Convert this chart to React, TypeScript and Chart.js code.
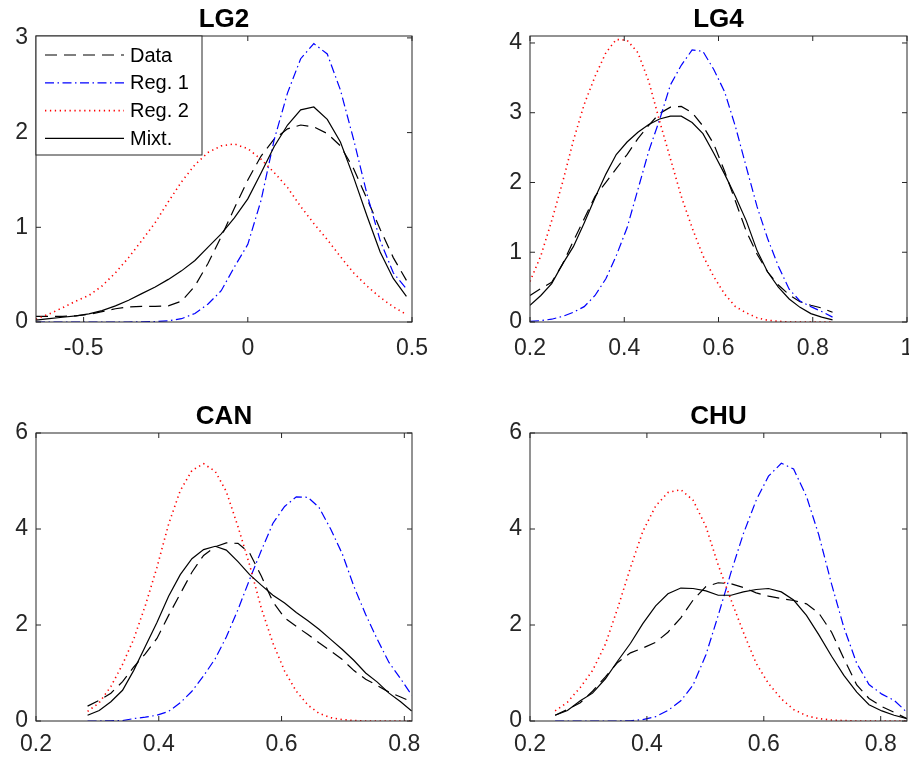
import React, { useEffect, useRef } from 'react';
import { Chart, registerables } from 'chart.js';

Chart.register(...registerables);

// ---------------- DATA ----------------
const seriesLabels = ['Data', 'Reg. 1', 'Reg. 2', 'Mixt.'];

// LG2
const lg2X = [-0.645, -0.605, -0.564, -0.524, -0.484, -0.444, -0.403, -0.363, -0.323, -0.282, -0.242, -0.202, -0.161, -0.121, -0.081, -0.041, 0.0, 0.04, 0.08, 0.121, 0.161, 0.201, 0.242, 0.282, 0.322, 0.363, 0.403, 0.443, 0.483];
const lg2Data = [0.06, 0.06, 0.06, 0.065, 0.08, 0.11, 0.14, 0.16, 0.165, 0.165, 0.17, 0.22, 0.38, 0.62, 0.9, 1.2, 1.5, 1.75, 1.93, 2.04, 2.08, 2.06, 1.99, 1.86, 1.62, 1.3, 0.98, 0.68, 0.44];
const lg2Reg1 = [0, 0, 0, 0, 0, 0, 0, 0, 0.002, 0.005, 0.012, 0.035, 0.09, 0.19, 0.33, 0.58, 0.82, 1.28, 1.92, 2.42, 2.78, 2.94, 2.83, 2.45, 1.93, 1.35, 0.86, 0.52, 0.35];
const lg2Reg2 = [0.03, 0.085, 0.15, 0.22, 0.28, 0.38, 0.52, 0.68, 0.86, 1.05, 1.27, 1.48, 1.66, 1.79, 1.86, 1.88, 1.83, 1.72, 1.58, 1.42, 1.22, 1.04, 0.87, 0.69, 0.52, 0.38, 0.26, 0.16, 0.08];
const lg2Mixt = [0.02, 0.035, 0.05, 0.065, 0.085, 0.12, 0.17, 0.23, 0.3, 0.37, 0.45, 0.54, 0.65, 0.79, 0.93, 1.1, 1.3, 1.57, 1.85, 2.08, 2.24, 2.27, 2.14, 1.9, 1.53, 1.12, 0.74, 0.46, 0.27];
const lg2XTicks = [-0.5, 0, 0.5];
const lg2XTickLabels = ['-0.5', '0', '0.5'];
const lg2YTicks = [0, 1, 2, 3];

// LG4
const lg4X = [0.2, 0.223, 0.246, 0.269, 0.292, 0.315, 0.338, 0.361, 0.383, 0.406, 0.429, 0.452, 0.475, 0.498, 0.521, 0.544, 0.567, 0.59, 0.613, 0.636, 0.659, 0.682, 0.704, 0.727, 0.75, 0.773, 0.796, 0.819, 0.842];
const lg4Data = [0.38, 0.48, 0.57, 0.83, 1.16, 1.48, 1.8, 2.0, 2.2, 2.4, 2.63, 2.82, 2.99, 3.08, 3.09, 3.0, 2.81, 2.55, 2.16, 1.73, 1.3, 0.97, 0.72, 0.53, 0.39, 0.29, 0.24, 0.2, 0.14];
const lg4Reg1 = [0.01, 0.02, 0.04, 0.08, 0.14, 0.22, 0.38, 0.62, 0.95, 1.35, 1.9, 2.45, 2.9, 3.4, 3.68, 3.9, 3.88, 3.62, 3.3, 2.8, 2.22, 1.65, 1.2, 0.8, 0.47, 0.3, 0.22, 0.15, 0.07];
const lg4Reg2 = [0.58, 0.95, 1.45, 2.0, 2.6, 3.12, 3.52, 3.86, 4.05, 4.04, 3.86, 3.45, 2.88, 2.34, 1.8, 1.35, 0.95, 0.65, 0.4, 0.22, 0.13, 0.06, 0.025, 0.01, 0, 0, 0, 0, 0];
const lg4Mixt = [0.24, 0.38, 0.55, 0.83, 1.08, 1.42, 1.78, 2.12, 2.4, 2.58, 2.72, 2.83, 2.91, 2.95, 2.95, 2.86, 2.7, 2.42, 2.12, 1.8, 1.45, 1.02, 0.72, 0.5, 0.33, 0.21, 0.12, 0.07, 0.03];
const lg4XTicks = [0.2, 0.4, 0.6, 0.8, 1];
const lg4XTickLabels = ['0.2', '0.4', '0.6', '0.8', '1'];
const lg4YTicks = [0, 1, 2, 3, 4];

// CAN
const canX = [0.284, 0.303, 0.322, 0.341, 0.359, 0.378, 0.397, 0.416, 0.435, 0.454, 0.473, 0.492, 0.51, 0.529, 0.548, 0.567, 0.586, 0.605, 0.624, 0.643, 0.661, 0.68, 0.699, 0.718, 0.737, 0.756, 0.775, 0.794, 0.812];
const canData = [0.31, 0.43, 0.58, 0.82, 1.12, 1.4, 1.72, 2.2, 2.65, 3.1, 3.45, 3.63, 3.71, 3.7, 3.5, 3.02, 2.48, 2.15, 1.97, 1.8, 1.63, 1.46, 1.28, 1.05, 0.87, 0.74, 0.6, 0.5, 0.4];
const canReg1 = [0, 0, 0.005, 0.01, 0.05, 0.08, 0.12, 0.2, 0.38, 0.62, 0.94, 1.3, 1.75, 2.32, 2.95, 3.55, 4.12, 4.47, 4.67, 4.66, 4.45, 4.0, 3.48, 2.8, 2.22, 1.7, 1.22, 0.88, 0.54];
const canReg2 = [0.2, 0.38, 0.72, 1.18, 1.7, 2.4, 3.2, 4.1, 4.8, 5.22, 5.36, 5.2, 4.78, 4.05, 3.25, 2.35, 1.62, 1.04, 0.62, 0.33, 0.16, 0.07, 0.03, 0.01, 0, 0, 0, 0, 0];
const canMixt = [0.12, 0.22, 0.4, 0.64, 1.05, 1.55, 2.05, 2.6, 3.05, 3.38, 3.57, 3.64, 3.56, 3.32, 3.05, 2.83, 2.62, 2.46, 2.26, 2.09, 1.91, 1.7, 1.49, 1.26, 1.0, 0.81, 0.58, 0.4, 0.21];
const canXTicks = [0.2, 0.4, 0.6, 0.8];
const canXTickLabels = ['0.2', '0.4', '0.6', '0.8'];
const canYTicks = [0, 2, 4, 6];

// CHU
const chuX = [0.243, 0.264, 0.286, 0.307, 0.329, 0.35, 0.372, 0.393, 0.415, 0.436, 0.458, 0.479, 0.501, 0.522, 0.544, 0.565, 0.587, 0.608, 0.63, 0.651, 0.673, 0.694, 0.716, 0.737, 0.759, 0.78, 0.802, 0.823, 0.845];
const chuData = [0.12, 0.24, 0.38, 0.62, 0.92, 1.22, 1.42, 1.52, 1.64, 1.85, 2.15, 2.52, 2.8, 2.88, 2.86, 2.78, 2.67, 2.6, 2.55, 2.51, 2.44, 2.25, 1.85, 1.3, 0.75, 0.47, 0.3, 0.18, 0.05];
const chuReg1 = [0, 0, 0, 0, 0, 0, 0.005, 0.03, 0.09, 0.22, 0.42, 0.75, 1.38, 2.2, 3.1, 3.9, 4.6, 5.1, 5.37, 5.25, 4.68, 3.88, 2.85, 1.95, 1.2, 0.76, 0.56, 0.43, 0.18];
const chuReg2 = [0.21, 0.39, 0.7, 1.05, 1.6, 2.35, 3.2, 3.95, 4.48, 4.76, 4.82, 4.6, 4.05, 3.25, 2.52, 1.85, 1.2, 0.78, 0.46, 0.24, 0.11, 0.05, 0.02, 0.01, 0, 0, 0, 0, 0];
const chuMixt = [0.12, 0.22, 0.42, 0.58, 0.88, 1.25, 1.62, 2.03, 2.4, 2.65, 2.77, 2.76, 2.71, 2.62, 2.62, 2.69, 2.74, 2.76, 2.69, 2.52, 2.2, 1.8, 1.35, 0.95, 0.6, 0.34, 0.21, 0.12, 0.05];
const chuXTicks = [0.2, 0.4, 0.6, 0.8];
const chuXTickLabels = ['0.2', '0.4', '0.6', '0.8'];
const chuYTicks = [0, 2, 4, 6];

// ---------------- STYLE / LAYOUT ----------------
const FONT = '"Liberation Sans", Arial, Helvetica, sans-serif';
const AXIS_COLOR = '#262626';

const SERIES_STYLE = [
  { color: '#000000', dash: [12, 7], width: 1.2, order: 4 },
  { color: '#0000ff', dash: [9, 3.5, 1.5, 3.5], width: 1.2, order: 3 },
  { color: '#ff0000', dash: [1.3, 3.6], width: 1.6, order: 2 },
  { color: '#000000', dash: [] as number[], width: 1.2, order: 1 },
];

type PanelCfg = {
  title: string;
  x: number[];
  series: number[][];
  xMin: number;
  xMax: number;
  yMax: number;
  xTicks: number[];
  xTickLabels: string[];
  yTicks: number[];
  legend: boolean;
  xLabelPad: number;
  canvas: { left: number; top: number; w: number; h: number };
  area: { l: number; t: number; r: number; b: number };
};

const PANELS: PanelCfg[] = [
  {
    title: 'LG2', x: lg2X, series: [lg2Data, lg2Reg1, lg2Reg2, lg2Mixt],
    xMin: -0.645, xMax: 0.5, yMax: 3.02,
    xTicks: lg2XTicks, xTickLabels: lg2XTickLabels, yTicks: lg2YTicks, legend: true, xLabelPad: 13,
    canvas: { left: 0, top: 0, w: 455, h: 381 }, area: { l: 36, t: 36, r: 412, b: 322 },
  },
  {
    title: 'LG4', x: lg4X, series: [lg4Data, lg4Reg1, lg4Reg2, lg4Mixt],
    xMin: 0.2, xMax: 1, yMax: 4.1,
    xTicks: lg4XTicks, xTickLabels: lg4XTickLabels, yTicks: lg4YTicks, legend: false, xLabelPad: 13,
    canvas: { left: 455, top: 0, w: 454, h: 381 }, area: { l: 75, t: 36, r: 452, b: 322 },
  },
  {
    title: 'CAN', x: canX, series: [canData, canReg1, canReg2, canMixt],
    xMin: 0.2, xMax: 0.8125, yMax: 6,
    xTicks: canXTicks, xTickLabels: canXTickLabels, yTicks: canYTicks, legend: false, xLabelPad: 10,
    canvas: { left: 0, top: 381, w: 455, h: 381 }, area: { l: 36, t: 52, r: 412, b: 340 },
  },
  {
    title: 'CHU', x: chuX, series: [chuData, chuReg1, chuReg2, chuMixt],
    xMin: 0.2, xMax: 0.845, yMax: 6,
    xTicks: chuXTicks, xTickLabels: chuXTickLabels, yTicks: chuYTicks, legend: false, xLabelPad: 10,
    canvas: { left: 455, top: 381, w: 454, h: 381 }, area: { l: 75, t: 52, r: 452, b: 340 },
  },
];

const matlabAxes = {
  id: 'matlabAxes',
  afterDraw(chart: any, _args: any, opts: any) {
    const { ctx, chartArea: a, scales } = chart;
    ctx.save();
    // box
    ctx.strokeStyle = AXIS_COLOR;
    ctx.lineWidth = 1;
    ctx.setLineDash([]);
    ctx.strokeRect(a.left, a.top, a.right - a.left, a.bottom - a.top);
    // inward tick marks on all four sides
    const tl = 5;
    ctx.beginPath();
    scales.x.ticks.forEach((t: any) => {
      const p = scales.x.getPixelForValue(t.value);
      ctx.moveTo(p, a.bottom); ctx.lineTo(p, a.bottom - tl);
      ctx.moveTo(p, a.top); ctx.lineTo(p, a.top + tl);
    });
    scales.y.ticks.forEach((t: any) => {
      const p = scales.y.getPixelForValue(t.value);
      ctx.moveTo(a.left, p); ctx.lineTo(a.left + tl, p);
      ctx.moveTo(a.right, p); ctx.lineTo(a.right - tl, p);
    });
    ctx.stroke();
    // title
    ctx.fillStyle = '#000';
    ctx.font = `bold 26px ${FONT}`;
    ctx.textAlign = 'center';
    ctx.textBaseline = 'alphabetic';
    ctx.fillText(opts.title, (a.left + a.right) / 2, a.top - 9);
    // legend
    if (opts.legend) {
      const bx = a.left, by = a.top, bw = 166, bh = 119;
      ctx.fillStyle = '#fff';
      ctx.fillRect(bx, by, bw, bh);
      ctx.strokeStyle = AXIS_COLOR;
      ctx.lineWidth = 1;
      ctx.strokeRect(bx, by, bw, bh);
      ctx.font = `20px ${FONT}`;
      ctx.textAlign = 'left';
      ctx.textBaseline = 'middle';
      chart.data.datasets.forEach((ds: any, i: number) => {
        const y = by + 19 + i * 27.8;
        ctx.strokeStyle = ds.borderColor;
        ctx.lineWidth = ds.borderWidth;
        ctx.setLineDash(ds.borderDash || []);
        ctx.beginPath();
        ctx.moveTo(bx + 9, y);
        ctx.lineTo(bx + 88, y);
        ctx.stroke();
        ctx.setLineDash([]);
        ctx.fillStyle = '#000';
        ctx.fillText(ds.label, bx + 94, y + 1);
      });
    }
    ctx.restore();
  },
};

function Panel({ cfg }: { cfg: PanelCfg }) {
  const ref = useRef<HTMLCanvasElement | null>(null);
  useEffect(() => {
    const c = ref.current;
    if (!c) return;
    const { canvas, area } = cfg;
    const chart = new Chart(c, {
      type: 'line',
      data: {
        datasets: cfg.series.map((ys, i) => ({
          label: seriesLabels[i],
          data: cfg.x.map((x, k) => ({ x, y: ys[k] })),
          borderColor: SERIES_STYLE[i].color,
          backgroundColor: SERIES_STYLE[i].color,
          borderWidth: SERIES_STYLE[i].width,
          borderDash: SERIES_STYLE[i].dash,
          pointRadius: 0,
          tension: 0,
          fill: false,
          order: SERIES_STYLE[i].order,
        })),
      },
      options: {
        animation: false,
        responsive: false,
        devicePixelRatio: 1,
        layout: { padding: { left: 0, top: area.t, right: canvas.w - area.r, bottom: 0 } },
        plugins: {
          legend: { display: false },
          tooltip: { enabled: false },
          matlabAxes: { title: cfg.title, legend: cfg.legend },
        } as any,
        scales: {
          x: {
            type: 'linear',
            min: cfg.xMin,
            max: cfg.xMax,
            grid: { display: false, drawTicks: false },
            border: { display: false },
            afterBuildTicks: (s: any) => { s.ticks = cfg.xTicks.map((v) => ({ value: v })); },
            afterFit: (s: any) => { s.height = canvas.h - area.b; s.paddingLeft = 0; s.paddingRight = 0; },
            ticks: {
              autoSkip: false,
              maxRotation: 0,
              padding: cfg.xLabelPad,
              color: AXIS_COLOR,
              font: { family: FONT, size: 23 },
              callback: (v: any) => {
                const idx = cfg.xTicks.findIndex((t) => Math.abs(t - Number(v)) < 1e-9);
                return idx >= 0 ? cfg.xTickLabels[idx] : '';
              },
            },
          },
          y: {
            type: 'linear',
            min: 0,
            max: cfg.yMax,
            grid: { display: false, drawTicks: false },
            border: { display: false },
            afterBuildTicks: (s: any) => { s.ticks = cfg.yTicks.map((v) => ({ value: v })); },
            afterFit: (s: any) => { s.width = area.l; s.paddingTop = 0; s.paddingBottom = 0; },
            ticks: {
              autoSkip: false,
              padding: 8,
              color: AXIS_COLOR,
              font: { family: FONT, size: 23 },
              callback: (v: any) => String(v),
            },
          },
        },
      } as any,
      plugins: [matlabAxes],
    });
    return () => chart.destroy();
  }, [cfg]);
  return (
    <canvas
      ref={ref}
      width={cfg.canvas.w}
      height={cfg.canvas.h}
      style={{ position: 'absolute', left: cfg.canvas.left, top: cfg.canvas.top, width: cfg.canvas.w, height: cfg.canvas.h }}
    />
  );
}

export default function App() {
  return (
    <div style={{ position: 'absolute', left: 0, top: 0, width: 909, height: 762, background: '#fff', overflow: 'hidden' }}>
      {PANELS.map((p) => (
        <Panel key={p.title} cfg={p} />
      ))}
    </div>
  );
}
